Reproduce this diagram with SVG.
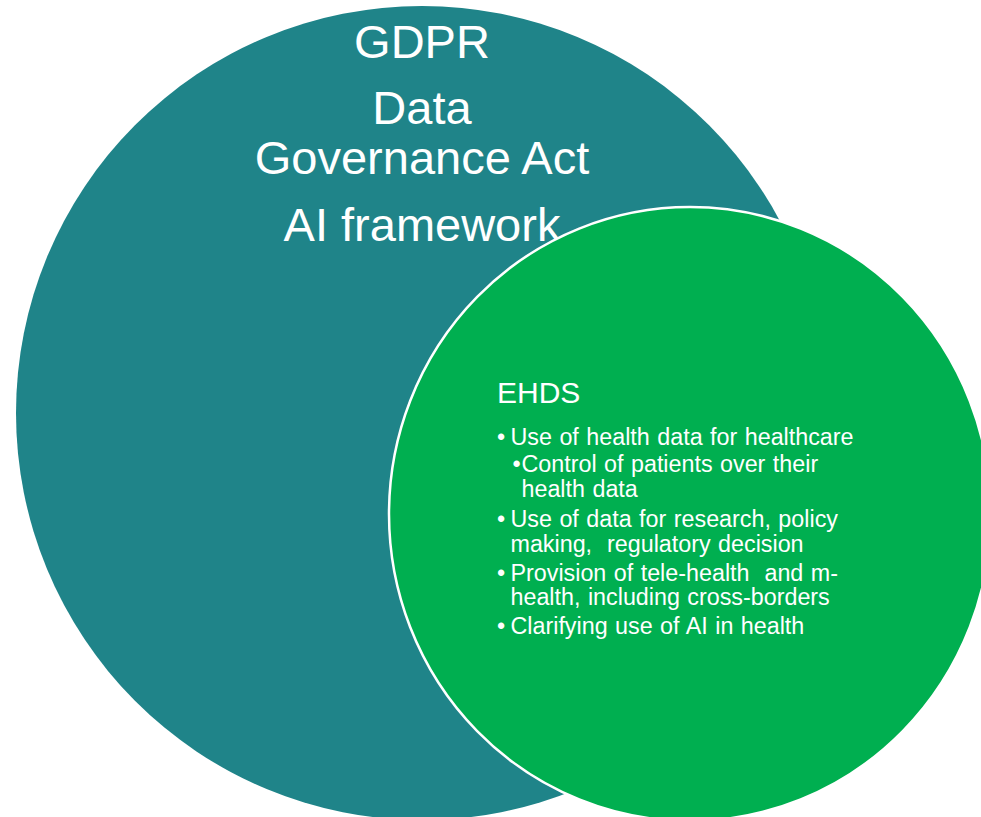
<svg xmlns="http://www.w3.org/2000/svg" width="981" height="817" viewBox="0 0 981 817">
  <style>
    .big { font-family: "Liberation Sans", Arial, sans-serif; font-size: 47px; fill: #FFFFFF; text-anchor: middle; }
    .head { font-family: "Liberation Sans", Arial, sans-serif; font-size: 30px; fill: #FFFFFF; }
    .item { font-family: "Liberation Sans", Arial, sans-serif; font-size: 23.3px; word-spacing: 1px; fill: #FFFFFF; white-space: pre; }
  </style>
  <rect x="0" y="0" width="981" height="817" fill="#FFFFFF"/>
  <g id="node-eu-frameworks">
    <ellipse cx="422" cy="413" rx="406" ry="407" fill="#1F8489"/>
    <text class="big" x="422" y="57.5">GDPR</text>
    <text class="big" x="422" y="124.3">Data</text>
    <text class="big" x="422" y="174">Governance Act</text>
    <text class="big" x="422" y="241">AI framework</text>
  </g>
  <g id="node-ehds">
    <ellipse cx="690" cy="514" rx="301" ry="307" fill="#00AF50" stroke="#FFFFFF" stroke-width="2.5"/>
    <text class="head" x="497" y="403.3">EHDS</text>
    <text class="item" x="497" y="444.5">•</text>
    <text class="item" x="510.5" y="444.5">Use of health data for healthcare</text>
    <text class="item" x="512.5" y="471.5">•</text>
    <text class="item" x="521.5" y="471.5">Control of patients over their</text>
    <text class="item" x="521.5" y="497">health data</text>
    <text class="item" x="497" y="527">•</text>
    <text class="item" x="510.5" y="527">Use of data for research, policy</text>
    <text class="item" x="510.5" y="551.7">making,  regulatory decision</text>
    <text class="item" x="497" y="580.5">•</text>
    <text class="item" x="510.5" y="580.5">Provision of tele-health  and m-</text>
    <text class="item" x="510.5" y="604.5">health, including cross-borders</text>
    <text class="item" x="497" y="634">•</text>
    <text class="item" x="510.5" y="634">Clarifying use of AI in health</text>
  </g>
  <g id="connectors"/>
</svg>
